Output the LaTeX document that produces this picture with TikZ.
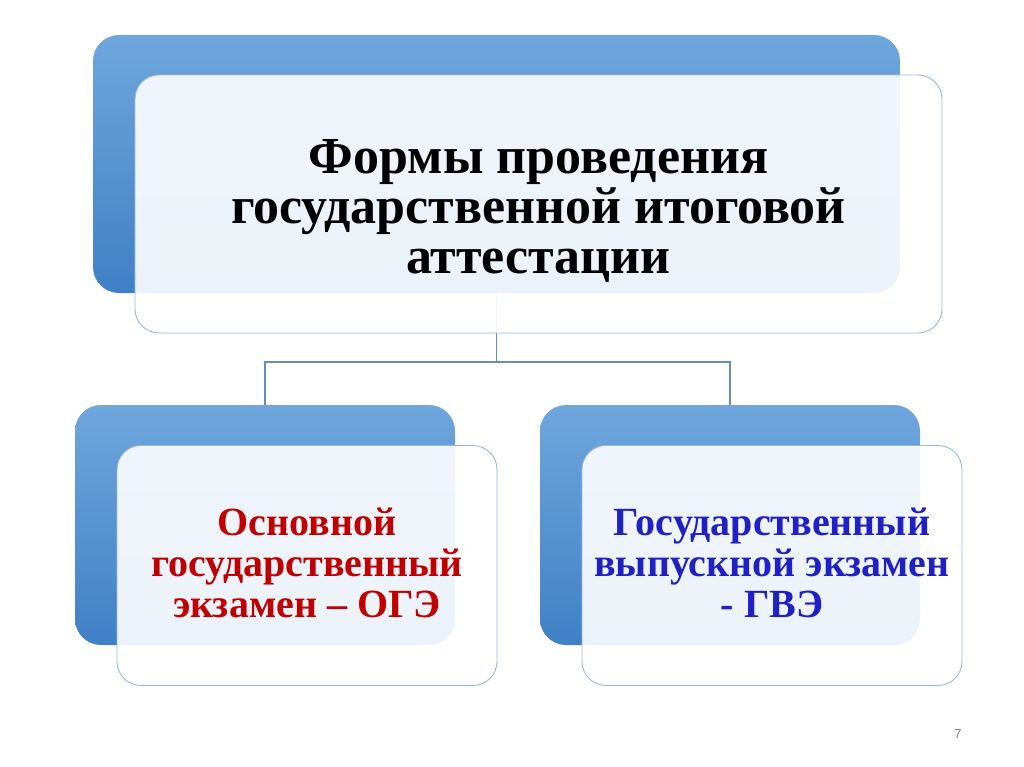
\documentclass[tikz,border=0pt]{standalone}
\usepackage{fontspec}
\setmainfont{Liberation Serif}
\newfontfamily\pnfont{Liberation Sans}
\definecolor{bluetop}{RGB}{111,166,220}
\definecolor{bluebot}{RGB}{64,128,198}
\definecolor{frontline}{RGB}{150,186,222}
\definecolor{connline}{RGB}{105,140,182}
\definecolor{ogered}{RGB}{192,0,0}
\definecolor{gveblue}{RGB}{32,32,196}
\tikzset{
  bluebox/.style={rectangle, rounded corners=26pt, top color=bluetop, bottom color=bluebot, draw=none, inner sep=0pt},
  frontbox/.style={rectangle, rounded corners=24pt, fill=white, fill opacity=0.9, draw=frontline, draw opacity=1, line width=0.9pt, inner sep=0pt},
  conn/.style={draw=connline, line width=1.5pt},
  titletext/.style={align=center, font=\fontsize{52}{50}\selectfont\bfseries, text=black, inner sep=0pt},
  subtext/.style={align=center, font=\fontsize{40}{41}\selectfont\bfseries, inner sep=0pt}
}
\begin{document}
\begin{tikzpicture}[x=1pt,y=-1pt]
\useasboundingbox[fill=white] (0,0) rectangle (1024,767);
% back boxes
\node[bluebox, minimum width=807pt, minimum height=258pt] (b0) at (496.5,164) {};
\node[bluebox, minimum width=380pt, minimum height=240pt] (b1) at (265,525) {};
\node[bluebox, minimum width=380pt, minimum height=240pt] (b2) at (730,525) {};
% connectors
\coordinate (j) at (496.5,362);
\draw[conn] (b0.south) -- (j);
\draw[conn] (j) -| (b1.north);
\draw[conn] (j) -| (b2.north);
% front boxes
\node[frontbox, minimum width=807pt, minimum height=258pt] (f0) at (538.5,204) {};
\node[frontbox, minimum width=380pt, minimum height=240pt] (f1) at (307,565.5) {};
\node[frontbox, minimum width=380pt, minimum height=240pt] (f2) at (772,565.5) {};
% texts
\node[titletext] (t0) at (538.5,211) {Формы проведения\\государственной итоговой\\аттестации};
\node[subtext, text=ogered] (t1) at (307,563) {Основной\\государственный\\экзамен – ОГЭ};
\node[subtext, text=gveblue] (t2) at (772,563) {Государственный\\выпускной экзамен\\- ГВЭ};
\node[font=\pnfont\fontsize{13}{15}\selectfont, text=black!50, inner sep=0pt] (pn) at (958,734) {7};
\end{tikzpicture}
\end{document}
